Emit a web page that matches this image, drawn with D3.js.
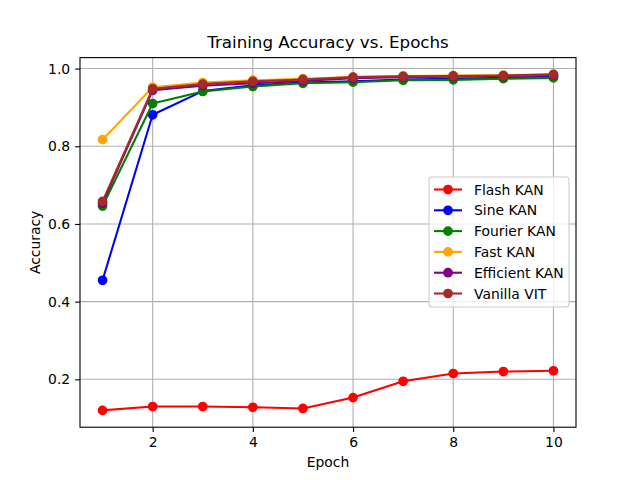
<!DOCTYPE html>
<html>
<head>
<meta charset="utf-8">
<script src="https://cdn.jsdelivr.net/npm/d3@7"></script>
<style>
  body { margin: 0; background: #fff; }
  svg { font-family: "DejaVu Sans", sans-serif; }
</style>
</head>
<body>
<div id="chart"></div>
<script>
// Data
var epochs = [1, 2, 3, 4, 5, 6, 7, 8, 9, 10];
var seriesNames = ["Flash KAN", "Sine KAN", "Fourier KAN", "Fast KAN", "Efficient KAN", "Vanilla VIT"];
var seriesColors = ["#ff0000", "#0000ff", "#008000", "#ffa500", "#800080", "#a52a2a"];
var flashKan = [0.120, 0.130, 0.130, 0.128, 0.125, 0.153, 0.195, 0.215, 0.220, 0.222];
var sineKan = [0.455, 0.881, 0.942, 0.957, 0.964, 0.967, 0.972, 0.974, 0.976, 0.979];
var fourierKan = [0.646, 0.910, 0.941, 0.954, 0.962, 0.965, 0.970, 0.971, 0.974, 0.976];
var fastKan = [0.817, 0.952, 0.964, 0.970, 0.974, 0.978, 0.981, 0.982, 0.983, 0.985];
var efficientKan = [0.653, 0.944, 0.956, 0.962, 0.968, 0.975, 0.978, 0.979, 0.981, 0.983];
var vanillaVit = [0.658, 0.948, 0.960, 0.967, 0.972, 0.978, 0.980, 0.981, 0.982, 0.985];
var xTicks = [2, 4, 6, 8, 10];
var yTicks = [0.2, 0.4, 0.6, 0.8, 1.0];

var allSeries = [flashKan, sineKan, fourierKan, fastKan, efficientKan, vanillaVit];

// Figure layout (matplotlib default 640x480)
var W = 640, H = 480;
var margin = { top: 57.6, right: 64, bottom: 52.8, left: 80 },
    width = W - margin.left - margin.right,
    height = H - margin.top - margin.bottom;

var svg = d3.select("#chart")
  .append("svg")
    .attr("width", W)
    .attr("height", H);

var g = svg.append("g")
  .attr("transform", "translate(" + margin.left + "," + margin.top + ")");

// Scales with 5% margins like matplotlib
var xMin = d3.min(epochs), xMax = d3.max(epochs);
var xPad = (xMax - xMin) * 0.05;
var x = d3.scaleLinear()
  .domain([xMin - xPad, xMax + xPad])
  .range([0, width]);

var yMin = d3.min(allSeries, function (s) { return d3.min(s); });
var yMax = d3.max(allSeries, function (s) { return d3.max(s); });
var yPad = (yMax - yMin) * 0.05;
var y = d3.scaleLinear()
  .domain([yMin - yPad, yMax + yPad])
  .range([height, 0]);

// Grid
g.append("g")
  .selectAll("line")
  .data(xTicks)
  .enter().append("line")
    .attr("x1", function (d) { return x(d); })
    .attr("x2", function (d) { return x(d); })
    .attr("y1", 0)
    .attr("y2", height)
    .attr("stroke", "#b0b0b0")
    .attr("stroke-width", 1.1);

g.append("g")
  .selectAll("line")
  .data(yTicks)
  .enter().append("line")
    .attr("x1", 0)
    .attr("x2", width)
    .attr("y1", function (d) { return y(d); })
    .attr("y2", function (d) { return y(d); })
    .attr("stroke", "#b0b0b0")
    .attr("stroke-width", 1.1);

// Axes
var xAxis = g.append("g")
  .attr("transform", "translate(0," + height + ")")
  .call(d3.axisBottom(x).tickValues(xTicks).tickSize(4.9).tickPadding(4.9).tickFormat(d3.format("d")));
var yAxis = g.append("g")
  .call(d3.axisLeft(y).tickValues(yTicks).tickSize(4.9).tickPadding(4.9).tickFormat(d3.format(".1f")));

[xAxis, yAxis].forEach(function (a) {
  a.select(".domain").remove();
  a.selectAll(".tick line").attr("stroke", "#000").attr("stroke-width", 1.1);
  a.selectAll(".tick text")
    .attr("fill", "#000")
    .style("font-family", "DejaVu Sans, sans-serif")
    .style("font-size", "13.9px");
});

// Lines and markers
var line = d3.line()
  .x(function (d, i) { return x(epochs[i]); })
  .y(function (d) { return y(d); });

allSeries.forEach(function (s, k) {
  var sg = g.append("g");
  sg.append("path")
    .datum(s)
    .attr("d", line)
    .attr("fill", "none")
    .attr("stroke", seriesColors[k])
    .attr("stroke-width", 2.08)
    .attr("stroke-linejoin", "round")
    .attr("stroke-linecap", "square");
  sg.selectAll("circle")
    .data(s)
    .enter().append("circle")
      .attr("cx", function (d, i) { return x(epochs[i]); })
      .attr("cy", function (d) { return y(d); })
      .attr("r", 4.17)
      .attr("fill", seriesColors[k])
      .attr("stroke", seriesColors[k])
      .attr("stroke-width", 1.39);
});

// Frame
g.append("rect")
  .attr("width", width)
  .attr("height", height)
  .attr("fill", "none")
  .attr("stroke", "#000")
  .attr("stroke-width", 1.1);

// Title and labels
svg.append("text")
  .attr("x", margin.left + width / 2)
  .attr("y", margin.top - 8.3 - 1)
  .attr("text-anchor", "middle")
  .style("font-size", "16.7px")
  .text("Training Accuracy vs. Epochs");

svg.append("text")
  .attr("x", margin.left + width / 2)
  .attr("y", 467)
  .attr("text-anchor", "middle")
  .style("font-size", "13.9px")
  .text("Epoch");

svg.append("text")
  .attr("transform", "translate(40," + (margin.top + height / 2) + ") rotate(-90)")
  .attr("text-anchor", "middle")
  .style("font-size", "13.9px")
  .text("Accuracy");

// Legend
var legend = svg.append("g").attr("transform", "translate(429,177)");
legend.append("rect")
  .attr("width", 140)
  .attr("height", 130)
  .attr("rx", 3)
  .attr("fill", "#fff")
  .attr("fill-opacity", 0.8)
  .attr("stroke", "#cccccc")
  .attr("stroke-width", 1.1);

seriesNames.forEach(function (name, k) {
  var ly = 12.5 + k * 20.8;
  legend.append("line")
    .attr("x1", 5).attr("x2", 33)
    .attr("y1", ly).attr("y2", ly)
    .attr("stroke", seriesColors[k])
    .attr("stroke-width", 2.08);
  legend.append("circle")
    .attr("cx", 19).attr("cy", ly)
    .attr("r", 4.17)
    .attr("fill", seriesColors[k])
    .attr("stroke", seriesColors[k])
    .attr("stroke-width", 1.39);
  legend.append("text")
    .attr("x", 45)
    .attr("y", ly)
    .attr("dy", "0.36em")
    .style("font-size", "13.9px")
    .text(name);
});
</script>
</body>
</html>
